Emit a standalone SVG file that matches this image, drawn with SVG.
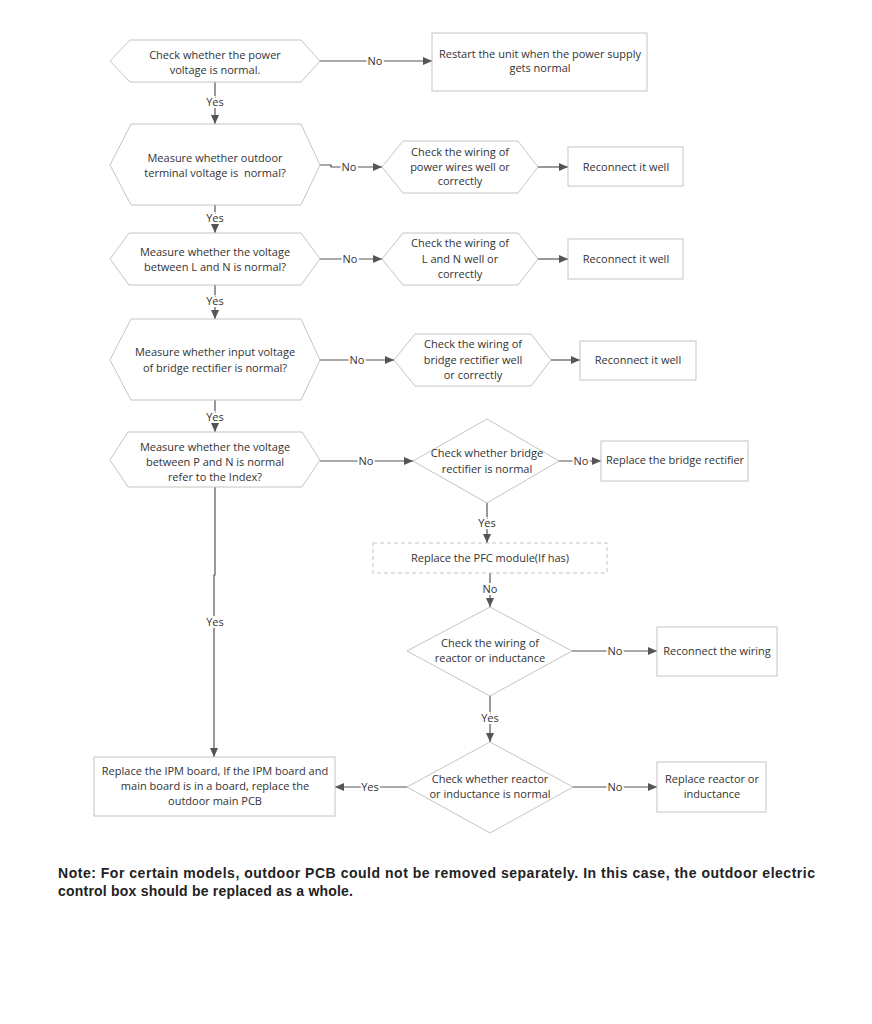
<svg xmlns="http://www.w3.org/2000/svg" width="872" height="1024" viewBox="0 0 872 1024">
<style>
.n{fill:#fff;stroke:#c4c4c4;stroke-width:1}
.d{fill:#fff;stroke:#c4c4c4;stroke-width:1;stroke-dasharray:4 3}
.t{font-family:"Open Sans","Liberation Sans",sans-serif;font-size:11px;fill:#333;text-anchor:middle}
.c{fill:none;stroke:#555;stroke-width:1.2}
.l{font-family:"Open Sans","Liberation Sans",sans-serif;font-size:11px;fill:#333;text-anchor:middle;paint-order:stroke;stroke:#fff;stroke-width:4px}
.note{font-family:"Liberation Sans",Arial,sans-serif;font-size:14px;font-weight:bold;fill:#222}
</style>
<defs>
<marker id="ah" markerUnits="userSpaceOnUse" markerWidth="9" markerHeight="8" refX="9" refY="4" orient="auto">
<path d="M0,0 L9,4 L0,8 z" fill="#555"/>
</marker>
</defs>
<rect width="872" height="1024" fill="#fff"/>

<g id="connectors">
<path class="c" d="M320,61 H432" marker-end="url(#ah)"/>
<path class="c" d="M215,82 V124" marker-end="url(#ah)"/>
<path class="c" d="M320,165 H331 V167 H382" marker-end="url(#ah)"/>
<path class="c" d="M538,167 H568" marker-end="url(#ah)"/>
<path class="c" d="M215,205 V233" marker-end="url(#ah)"/>
<path class="c" d="M320,259 H382" marker-end="url(#ah)"/>
<path class="c" d="M538,259 H568" marker-end="url(#ah)"/>
<path class="c" d="M215,285 V319" marker-end="url(#ah)"/>
<path class="c" d="M320,360 H394" marker-end="url(#ah)"/>
<path class="c" d="M551,360 H580" marker-end="url(#ah)"/>
<path class="c" d="M215,400 V432" marker-end="url(#ah)"/>
<path class="c" d="M320,461 H413" marker-end="url(#ah)"/>
<path class="c" d="M559,461 H601" marker-end="url(#ah)"/>
<path class="c" d="M215,487 V575 H214 V757" marker-end="url(#ah)"/>
<path class="c" d="M487,503 V543" marker-end="url(#ah)"/>
<path class="c" d="M490,573 V607" marker-end="url(#ah)"/>
<path class="c" d="M572,651 H657" marker-end="url(#ah)"/>
<path class="c" d="M490,696 V742" marker-end="url(#ah)"/>
<path class="c" d="M407,787 H335" marker-end="url(#ah)"/>
<path class="c" d="M573,787 H657" marker-end="url(#ah)"/>
<text class="l" x="375" y="65">No</text>
<text class="l" x="349" y="171">No</text>
<text class="l" x="350" y="263">No</text>
<text class="l" x="357" y="364">No</text>
<text class="l" x="366" y="465">No</text>
<text class="l" x="581" y="465">No</text>
<text class="l" x="215" y="106">Yes</text>
<text class="l" x="215" y="222">Yes</text>
<text class="l" x="215" y="305">Yes</text>
<text class="l" x="215" y="421">Yes</text>
<text class="l" x="215" y="626">Yes</text>
<text class="l" x="487" y="527">Yes</text>
<text class="l" x="490" y="593">No</text>
<text class="l" x="615" y="655">No</text>
<text class="l" x="490" y="722">Yes</text>
<text class="l" x="370" y="791">Yes</text>
<text class="l" x="615" y="791">No</text>
</g>

<g id="n1">
<polygon class="n" points="110,61 130,40 301,40 320,61 301,82 130,82"/>
<text class="t" x="215" y="59">Check whether the power</text>
<text class="t" x="215" y="74">voltage is normal.</text>
</g>
<g id="n1no">
<rect class="n" x="432" y="33" width="215" height="58"/>
<text class="t" x="540" y="58">Restart the unit when the power supply</text>
<text class="t" x="540" y="72">gets normal</text>
</g>

<g id="n2">
<polygon class="n" points="110,165 131,124 301,124 320,165 301,205 131,205"/>
<text class="t" x="215" y="162">Measure whether outdoor</text>
<text class="t" x="215" y="177">terminal voltage is&#160; normal?</text>
</g>
<g id="n2no">
<polygon class="n" points="382,167 403,141 518,141 538,167 518,193 403,193"/>
<text class="t" x="460" y="156">Check the wiring of</text>
<text class="t" x="460" y="171">power wires well or</text>
<text class="t" x="460" y="185">correctly</text>
</g>
<g id="n2fix">
<rect class="n" x="568" y="147" width="115" height="39"/>
<text class="t" x="626" y="171">Reconnect it well</text>
</g>

<g id="n3">
<polygon class="n" points="110,259 129,233 301,233 320,259 301,285 129,285"/>
<text class="t" x="215" y="256">Measure whether the voltage</text>
<text class="t" x="215" y="271">between L and N is normal?</text>
</g>
<g id="n3no">
<polygon class="n" points="382,259 403,233 518,233 538,259 518,285 403,285"/>
<text class="t" x="460" y="247">Check the wiring of</text>
<text class="t" x="460" y="263">L and N well or</text>
<text class="t" x="460" y="278">correctly</text>
</g>
<g id="n3fix">
<rect class="n" x="568" y="239" width="115" height="40"/>
<text class="t" x="626" y="263">Reconnect it well</text>
</g>

<g id="n4">
<polygon class="n" points="110,360 131,319 301,319 320,360 301,400 131,400"/>
<text class="t" x="215" y="356">Measure whether input voltage</text>
<text class="t" x="215" y="372">of bridge rectifier is normal?</text>
</g>
<g id="n4no">
<polygon class="n" points="394,360 415,334 531,334 551,360 531,386 415,386"/>
<text class="t" x="473" y="348">Check the wiring of</text>
<text class="t" x="473" y="364">bridge rectifier well</text>
<text class="t" x="473" y="379">or correctly</text>
</g>
<g id="n4fix">
<rect class="n" x="580" y="341" width="116" height="39"/>
<text class="t" x="638" y="364">Reconnect it well</text>
</g>

<g id="n5">
<polygon class="n" points="110,460 128,432 302,432 320,460 302,487 128,487"/>
<text class="t" x="215" y="451">Measure whether the voltage</text>
<text class="t" x="215" y="466">between P and N is normal</text>
<text class="t" x="215" y="481">refer to the Index?</text>
</g>
<g id="n5no">
<polygon class="n" points="487,419 559,461 487,503 413,461"/>
<text class="t" x="487" y="457">Check whether bridge</text>
<text class="t" x="487" y="473">rectifier is normal</text>
</g>
<g id="n5fix">
<rect class="n" x="601" y="441" width="147" height="40"/>
<text class="t" x="675" y="464">Replace the bridge rectifier</text>
</g>

<g id="pfc">
<rect class="d" x="373" y="543" width="234" height="30"/>
<text class="t" x="490" y="562">Replace the PFC module(If has)</text>
</g>

<g id="n6">
<polygon class="n" points="490,607 572,651 490,696 407,651"/>
<text class="t" x="490" y="647">Check the wiring of</text>
<text class="t" x="490" y="662">reactor or inductance</text>
</g>
<g id="n6fix">
<rect class="n" x="657" y="627" width="120" height="49"/>
<text class="t" x="717" y="655">Reconnect the wiring</text>
</g>

<g id="n7">
<polygon class="n" points="490,742 573,787 490,833 407,787"/>
<text class="t" x="490" y="783">Check whether reactor</text>
<text class="t" x="490" y="798">or inductance is normal</text>
</g>
<g id="n7fix">
<rect class="n" x="657" y="762" width="109" height="50"/>
<text class="t" x="712" y="783">Replace reactor or</text>
<text class="t" x="712" y="798">inductance</text>
</g>

<g id="ipm">
<rect class="n" x="94" y="757" width="241" height="59"/>
<text class="t" x="215" y="775">Replace the IPM board, If the IPM board and</text>
<text class="t" x="215" y="790">main board is in a board, replace the</text>
<text class="t" x="215" y="805">outdoor main PCB</text>
</g>

<g id="note">
<text class="note" x="58" y="878" textLength="757" lengthAdjust="spacing">Note: For certain models, outdoor PCB could not be removed separately. In this case, the outdoor electric</text>
<text class="note" x="58" y="896" textLength="295" lengthAdjust="spacing">control box should be replaced as a whole.</text>
</g>
</svg>
